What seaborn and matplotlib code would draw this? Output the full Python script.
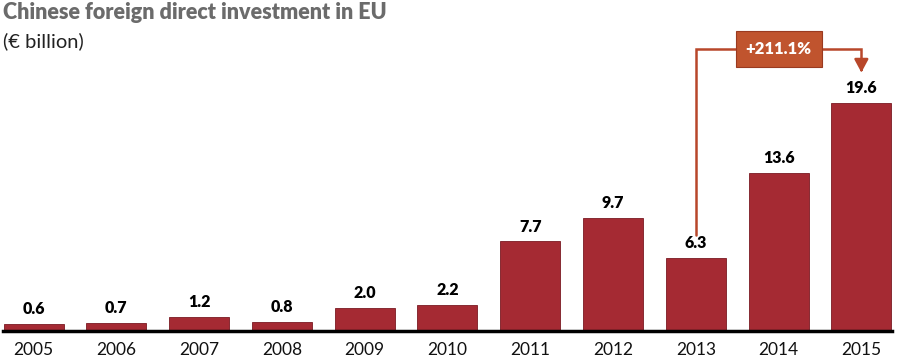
import matplotlib
matplotlib.use('Agg')
import pandas as pd
import seaborn as sns
import matplotlib.pyplot as plt

# Data
years = ['2005', '2006', '2007', '2008', '2009', '2010', '2011', '2012', '2013', '2014', '2015']
fdi = [0.6, 0.7, 1.2, 0.8, 2.0, 2.2, 7.7, 9.7, 6.3, 13.6, 19.6]
change_label = '+211.1%'

df = pd.DataFrame({'year': years, 'fdi': fdi})

sns.set_theme(style='white')
plt.rcParams['font.family'] = ['Lato', 'DejaVu Sans']

bar_color = '#A52A33'
arrow_color = '#B8472A'

fig = plt.figure(figsize=(9, 3.62), dpi=100)
ax = fig.add_axes([0.0033, 0.0856, 0.9878, 0.835])

sns.barplot(data=df, x='year', y='fdi', color=bar_color, saturation=1,
            width=0.725, edgecolor='#7a1a22', linewidth=0.6, ax=ax)

ax.set_xlim(-0.37, 10.37)
ax.set_ylim(0, 26)
ax.set_xlabel('')
ax.set_ylabel('')
ax.set_yticks([])
for s in ['top', 'right', 'left']:
    ax.spines[s].set_visible(False)
ax.spines['bottom'].set_color('black')
ax.spines['bottom'].set_linewidth(2.5)
ax.tick_params(axis='x', length=0, labelsize=12.5, pad=8, colors='#111111')

# value labels
for i, v in enumerate(fdi):
    ax.text(i, v + 0.6, f'{v:.1f}', ha='center', va='bottom',
            fontsize=11.5, fontweight='heavy', color='black')

# growth arrow from 2013 to 2015
i0, i1 = years.index('2013'), years.index('2015')
y_top = 24.3
ax.plot([i0, i0, i1, i1], [fdi[i0] + 2.0, y_top, y_top, 22.6],
        color=arrow_color, lw=1.8, solid_joinstyle='miter')
ax.annotate('', xy=(i1, 22.0), xytext=(i1, 22.8),
            arrowprops=dict(arrowstyle='-|>,head_width=0.35,head_length=0.65',
                            color=arrow_color, lw=1.8))
ax.text((i0 + i1) / 2, y_top, change_label, ha='center', va='center',
        fontsize=12, fontweight='heavy', color='white',
        bbox=dict(boxstyle='square,pad=0.6', fc='#C0542E', ec='#9a3a20', lw=0.8))

fig.text(0.003, 0.995, 'Chinese foreign direct investment in EU', ha='left', va='top',
         fontsize=15.5, fontweight='heavy', color='#6b6b6b')
fig.text(0.003, 0.91, '(€ billion)', ha='left', va='top',
         fontsize=14.5, color='#222222')

fig.savefig('out.png', dpi=100)
